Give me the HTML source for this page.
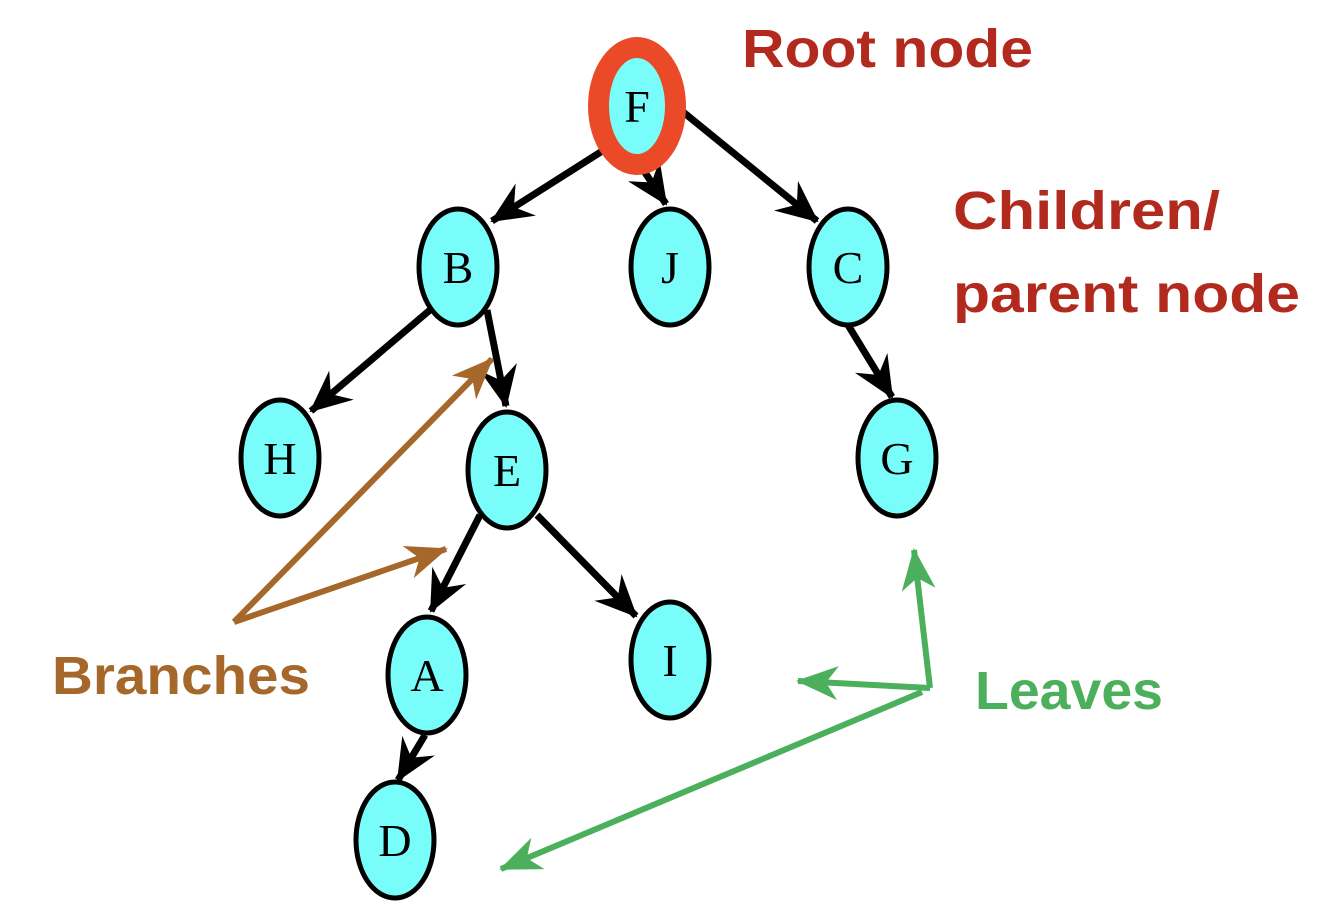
<!DOCTYPE html>
<html><head><style>body{margin:0;background:#fff}svg{display:block}</style></head><body>
<svg width="1336" height="924" xmlns="http://www.w3.org/2000/svg">
<defs>
<marker id="ab" markerWidth="10" markerHeight="10" refX="8" refY="5" orient="auto" markerUnits="userSpaceOnUse" viewBox="0 0 10 10" style="overflow:visible">
<path d="M10,5 L-32,-14 L-18,5 L-32,24 Z" fill="#000"/></marker>
<marker id="abr" markerWidth="10" markerHeight="10" refX="8" refY="5" orient="auto" markerUnits="userSpaceOnUse" viewBox="0 0 10 10" style="overflow:visible">
<path d="M10,5 L-32,-12 L-20,5 L-32,22 Z" fill="#a5682a"/></marker>
<marker id="agr" markerWidth="10" markerHeight="10" refX="8" refY="5" orient="auto" markerUnits="userSpaceOnUse" viewBox="0 0 10 10" style="overflow:visible">
<path d="M10,5 L-32,-12 L-20,5 L-32,22 Z" fill="#4caf5c"/></marker>
</defs>
<g stroke="#000" stroke-width="7" marker-end="url(#ab)">
<line x1="607" y1="148" x2="492" y2="221"/>
<line x1="640" y1="165" x2="666" y2="204"/>
<line x1="677" y1="107" x2="817" y2="221"/>
<line x1="430" y1="310" x2="311" y2="411"/>
<line x1="487" y1="310" x2="506" y2="406"/>
<line x1="848" y1="325" x2="892" y2="397"/>
<line x1="480" y1="515" x2="431" y2="611"/>
<line x1="537" y1="515" x2="636" y2="616"/>
<line x1="425" y1="735" x2="398" y2="780"/>
</g>
<g stroke="#a5682a" stroke-width="6" fill="none" marker-end="url(#abr)">
<line x1="234" y1="622" x2="492" y2="359"/>
<line x1="234" y1="622" x2="446" y2="549"/>
</g>
<g stroke="#4caf5c" stroke-width="6" fill="none" marker-end="url(#agr)">
<line x1="930" y1="688" x2="914" y2="550"/>
<line x1="930" y1="688" x2="798" y2="681"/>
<line x1="922" y1="692" x2="501" y2="869"/>
</g>
<ellipse cx="637" cy="106" rx="49" ry="69" fill="#ea4a28"/>
<ellipse cx="637" cy="106" rx="28" ry="48" fill="#78fdfa"/>
<g fill="#78fdfa" stroke="#000" stroke-width="5">
<ellipse cx="458" cy="267" rx="39" ry="58"/>
<ellipse cx="670" cy="267" rx="39" ry="58"/>
<ellipse cx="848" cy="267" rx="39" ry="58"/>
<ellipse cx="280" cy="458" rx="39" ry="58"/>
<ellipse cx="507" cy="470" rx="39" ry="58"/>
<ellipse cx="897" cy="458" rx="39" ry="58"/>
<ellipse cx="427" cy="675" rx="39" ry="58"/>
<ellipse cx="670" cy="660" rx="39" ry="58"/>
<ellipse cx="395" cy="840" rx="39" ry="58"/>
</g>
<g font-family="Liberation Serif, serif" font-size="46" text-anchor="middle" fill="#000">
<text x="637" y="122">F</text>
<text x="458" y="283">B</text>
<text x="670" y="283">J</text>
<text x="848" y="283">C</text>
<text x="280" y="474">H</text>
<text x="507" y="486">E</text>
<text x="897" y="474">G</text>
<text x="427" y="691">A</text>
<text x="670" y="676">I</text>
<text x="395" y="856">D</text>
</g>
<g font-family="Liberation Sans, sans-serif" font-weight="bold" font-size="54">
<text x="742" y="67" fill="#b22a1e" textLength="291" lengthAdjust="spacingAndGlyphs">Root node</text>
<text x="953" y="229" fill="#b22a1e" textLength="267" lengthAdjust="spacingAndGlyphs">Children/</text>
<text x="953" y="312" fill="#b22a1e" textLength="347" lengthAdjust="spacingAndGlyphs">parent node</text>
<text x="52" y="694" fill="#a5682a" textLength="258" lengthAdjust="spacingAndGlyphs">Branches</text>
<text x="975" y="709" fill="#4caf5c" textLength="188" lengthAdjust="spacingAndGlyphs">Leaves</text>
</g>
</svg>
</body></html>
